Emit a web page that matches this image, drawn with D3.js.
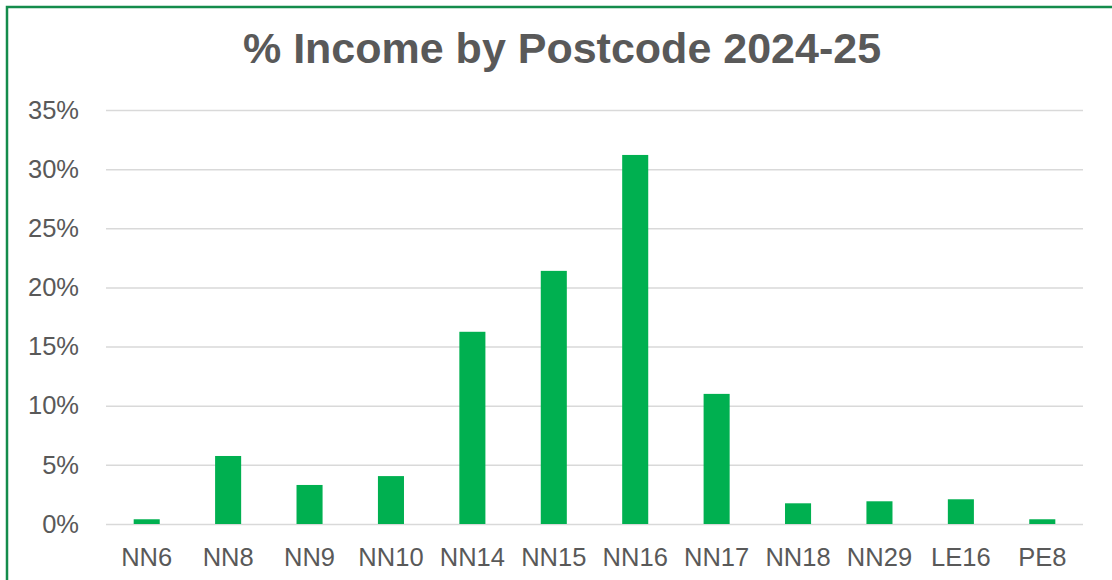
<!DOCTYPE html>
<html>
<head>
<meta charset="utf-8">
<script src="https://cdn.jsdelivr.net/npm/d3@7"></script>
<style>
  body { margin: 0; background: #fff; }
  svg { display: block; font-family: 'Liberation Sans', Arial, sans-serif; }
</style>
</head>
<body>
<svg id="chart" width="1112" height="580"></svg>
<script>
'use strict';

const postcodes = ['NN6', 'NN8', 'NN9', 'NN10', 'NN14', 'NN15', 'NN16', 'NN17', 'NN18', 'NN29', 'LE16', 'PE8'];
const incomeShare = [0.004, 0.0575, 0.033, 0.0405, 0.1625, 0.214, 0.312, 0.110, 0.0175, 0.0192, 0.0209, 0.004];
const yTicks = [0, 0.05, 0.10, 0.15, 0.20, 0.25, 0.30, 0.35];
const titleText = '% Income by Postcode 2024-25';

const width = 1112;
const height = 580;
const plotLeft = 106;
const plotRight = 1083;
const plotTop = 110;
const plotBottom = 524;
const textColor = '#595959';

const svg = d3.select('#chart');

svg.append('rect')
  .attr('x', 7).attr('y', 7)
  .attr('width', width + 20).attr('height', height + 20)
  .attr('fill', '#fff')
  .attr('stroke', '#148c4c')
  .attr('stroke-width', 2.5);

svg.append('text')
  .attr('x', 562).attr('y', 63)
  .attr('text-anchor', 'middle')
  .attr('font-size', 43)
  .attr('font-weight', 'bold')
  .attr('fill', textColor)
  .text(titleText);

const x = d3.scaleBand()
  .domain(postcodes)
  .range([plotLeft, plotRight])
  .paddingInner(0.68)
  .paddingOuter(0.34);

const y = d3.scaleLinear()
  .domain([0, 0.35])
  .range([plotBottom, plotTop]);

// gridlines + y labels
const yAxis = d3.axisLeft(y)
  .tickValues(yTicks)
  .tickFormat(d3.format('.0%'))
  .tickSize(-(plotRight - plotLeft))
  .tickPadding(27);

const gy = svg.append('g')
  .attr('transform', `translate(${plotLeft},0)`)
  .call(yAxis);
gy.select('.domain').remove();
gy.selectAll('.tick line')
  .attr('stroke', '#d9d9d9')
  .attr('stroke-width', 1.5);
gy.selectAll('.tick text')
  .attr('fill', textColor)
  .attr('font-size', 25.5)
  .attr('font-family', "'Liberation Sans', Arial, sans-serif");

// bars
svg.append('g')
  .selectAll('rect')
  .data(postcodes)
  .join('rect')
  .attr('x', (d) => x(d))
  .attr('width', x.bandwidth())
  .attr('y', (d, i) => y(incomeShare[i]))
  .attr('height', (d, i) => y(0) - y(incomeShare[i]))
  .attr('fill', '#00b050');

// x labels
const xAxis = d3.axisBottom(x).tickSize(0).tickPadding(24);
const gx = svg.append('g')
  .attr('transform', `translate(0,${plotBottom})`)
  .call(xAxis);
gx.select('.domain').remove();
gx.selectAll('.tick text')
  .attr('fill', textColor)
  .attr('font-size', 25.5)
  .attr('font-family', "'Liberation Sans', Arial, sans-serif");
</script>
</body>
</html>
